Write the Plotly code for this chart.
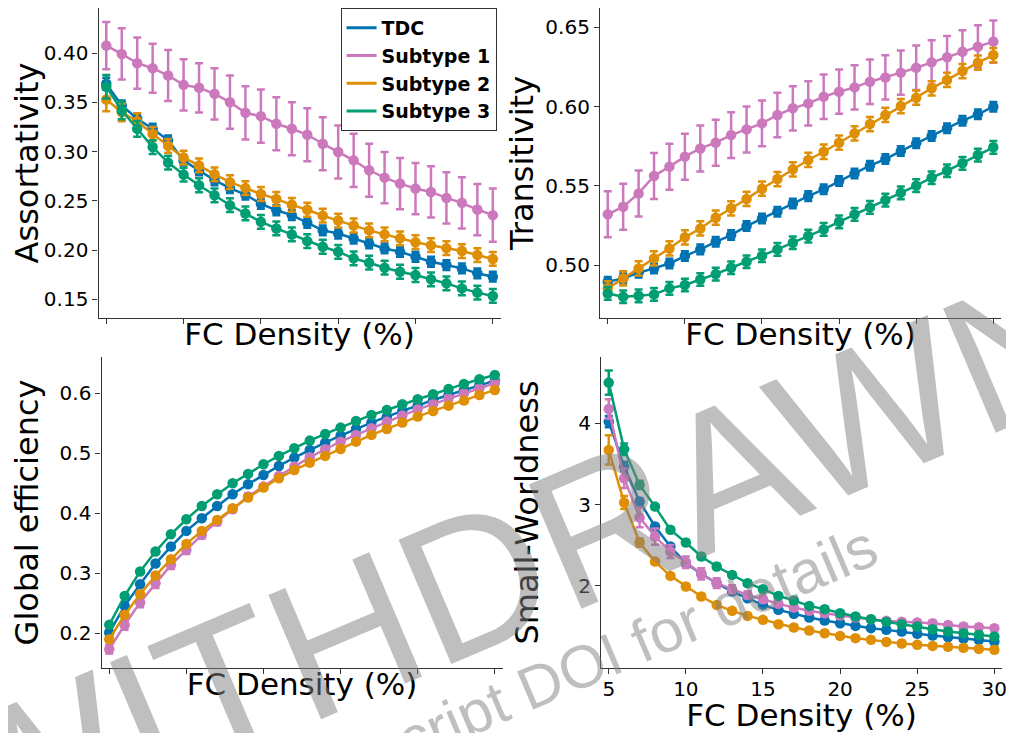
import plotly.graph_objects as go

density = list(range(5, 31))
groups = ["TDC", "Subtype 1", "Subtype 2", "Subtype 3"]
colors = ["#0173B2", "#CC78BC", "#DE8F05", "#029E73"]

# Assortativity
assort_tdc = [0.369, 0.347, 0.3335, 0.3233, 0.3115, 0.291, 0.281, 0.271, 0.263, 0.2564, 0.247, 0.2405, 0.2355, 0.2277, 0.220, 0.2169, 0.2118, 0.2068, 0.2017, 0.1983, 0.1932, 0.1882, 0.1848, 0.1814, 0.1764, 0.1730]
assort_s1 = [0.4078, 0.3993, 0.3899, 0.3848, 0.3774, 0.3679, 0.3649, 0.3588, 0.3503, 0.3395, 0.3361, 0.3284, 0.3233, 0.3172, 0.3081, 0.2997, 0.2912, 0.2811, 0.2736, 0.2676, 0.2625, 0.2591, 0.2530, 0.2480, 0.2412, 0.2355]
assort_s2 = [0.353, 0.340, 0.331, 0.318, 0.306, 0.294, 0.286, 0.277, 0.269, 0.263, 0.257, 0.252, 0.246, 0.241, 0.235, 0.230, 0.225, 0.220, 0.216, 0.212, 0.208, 0.205, 0.202, 0.199, 0.195, 0.191]
assort_s3 = [0.366, 0.3419, 0.3233, 0.3047, 0.2889, 0.2767, 0.2659, 0.2557, 0.2456, 0.2372, 0.2287, 0.222, 0.2159, 0.2091, 0.2034, 0.1983, 0.1916, 0.1872, 0.1821, 0.178, 0.1747, 0.1703, 0.1662, 0.1611, 0.1568, 0.1534]
assort_tdc_err = [0.006] + [0.005] * 25
assort_s1_err = [0.024, 0.026, 0.026, 0.025, 0.026, 0.026, 0.025, 0.026, 0.027, 0.027, 0.027, 0.027, 0.027, 0.027, 0.027, 0.027, 0.027, 0.027, 0.026, 0.026, 0.026, 0.026, 0.026, 0.026, 0.026, 0.027]
assort_s2_err = [0.012, 0.009, 0.008] + [0.007] * 23
assort_s3_err = [0.012, 0.009, 0.008] + [0.007] * 23

# Transitivity
trans_tdc = [0.4895, 0.4916, 0.4951, 0.4979, 0.501, 0.5057, 0.5099, 0.5147, 0.5189, 0.5246, 0.5294, 0.5337, 0.5389, 0.5435, 0.5478, 0.553, 0.5578, 0.5627, 0.5669, 0.5719, 0.5768, 0.5814, 0.5863, 0.5911, 0.5951, 0.5999]
trans_s1 = [0.532, 0.5368, 0.5452, 0.5562, 0.5621, 0.5684, 0.5736, 0.5772, 0.582, 0.5856, 0.5894, 0.5947, 0.5989, 0.602, 0.6062, 0.6094, 0.6121, 0.6157, 0.6184, 0.6214, 0.6245, 0.6279, 0.6311, 0.6346, 0.6378, 0.641]
trans_s2 = [0.4853, 0.4916, 0.4979, 0.5042, 0.5105, 0.5175, 0.5231, 0.5299, 0.5358, 0.5417, 0.5482, 0.5543, 0.5604, 0.5663, 0.5715, 0.5772, 0.5831, 0.589, 0.5947, 0.6003, 0.6056, 0.6115, 0.6168, 0.6224, 0.6277, 0.6325]
trans_s3 = [0.4821, 0.48, 0.4806, 0.4815, 0.4853, 0.4874, 0.4909, 0.4943, 0.4983, 0.5021, 0.5059, 0.5099, 0.5141, 0.5183, 0.5225, 0.5273, 0.532, 0.5364, 0.541, 0.5456, 0.5501, 0.5551, 0.5595, 0.5642, 0.5694, 0.5743]
trans_tdc_err = [0.003] * 26
trans_s1_err = [0.0145, 0.0145, 0.0145, 0.0145, 0.0145, 0.0145, 0.0145, 0.0145, 0.0145, 0.0145, 0.0145, 0.014, 0.014, 0.014, 0.014, 0.014, 0.014, 0.014, 0.014, 0.014, 0.014, 0.014, 0.0135, 0.0135, 0.0135, 0.0133]
trans_s2_err = [0.0045] * 26
trans_s3_err = [0.004] * 26

# Global efficiency
geff_tdc = [0.2011, 0.2456, 0.2817, 0.3161, 0.3444, 0.3706, 0.3917, 0.4122, 0.4317, 0.4483, 0.4639, 0.4789, 0.4928, 0.5056, 0.5178, 0.5294, 0.5406, 0.5511, 0.5611, 0.5706, 0.5794, 0.5889, 0.5972, 0.6056, 0.6139, 0.6211]
geff_s1 = [0.1733, 0.2139, 0.2511, 0.2833, 0.3139, 0.3389, 0.3639, 0.3861, 0.4067, 0.4278, 0.4444, 0.4622, 0.4778, 0.4933, 0.5067, 0.5194, 0.5306, 0.5417, 0.5528, 0.5628, 0.5733, 0.5822, 0.5917, 0.6, 0.6083, 0.6167]
geff_s2 = [0.19, 0.2306, 0.265, 0.2961, 0.3233, 0.3489, 0.3706, 0.3889, 0.4083, 0.4261, 0.4428, 0.4583, 0.4722, 0.4844, 0.4956, 0.5072, 0.5194, 0.5306, 0.5406, 0.5511, 0.5611, 0.5706, 0.5794, 0.5878, 0.5972, 0.6056]
geff_s3 = [0.2139, 0.2622, 0.3028, 0.3361, 0.365, 0.39, 0.4122, 0.4317, 0.45, 0.4656, 0.4817, 0.4956, 0.5083, 0.5211, 0.5322, 0.5428, 0.5539, 0.5639, 0.5722, 0.5817, 0.59, 0.5983, 0.6072, 0.6156, 0.6233, 0.6306]
geff_tdc_err = [0.003] * 26
geff_s1_err = [0.007, 0.008, 0.008, 0.008, 0.007, 0.007, 0.006, 0.006, 0.005, 0.005] + [0.004] * 16
geff_s2_err = [0.004] * 26
geff_s3_err = [0.003] * 26

# Small-worldness
sw_tdc = [4.02, 3.467, 3.037, 2.73, 2.484, 2.279, 2.148, 2.033, 1.93, 1.848, 1.766, 1.705, 1.656, 1.611, 1.574, 1.541, 1.508, 1.48, 1.459, 1.439, 1.41, 1.389, 1.369, 1.352, 1.336, 1.316]
sw_s1 = [4.176, 3.324, 2.84, 2.607, 2.422, 2.291, 2.148, 2.033, 1.959, 1.889, 1.836, 1.779, 1.734, 1.693, 1.664, 1.635, 1.611, 1.59, 1.57, 1.56, 1.549, 1.541, 1.52, 1.5, 1.492, 1.48]
sw_s2 = [3.672, 3.025, 2.533, 2.299, 2.123, 1.992, 1.869, 1.766, 1.693, 1.631, 1.582, 1.529, 1.488, 1.451, 1.418, 1.385, 1.357, 1.336, 1.311, 1.291, 1.275, 1.262, 1.25, 1.238, 1.225, 1.213]
sw_s3 = [4.5, 3.68, 3.242, 2.975, 2.689, 2.533, 2.361, 2.238, 2.135, 2.033, 1.959, 1.877, 1.82, 1.754, 1.713, 1.664, 1.623, 1.59, 1.557, 1.529, 1.5, 1.467, 1.439, 1.418, 1.398, 1.377]
sw_tdc_err = [0.07, 0.06, 0.04] + [0.03] * 23
sw_s1_err = [0.12, 0.12, 0.12, 0.1, 0.08, 0.07, 0.07, 0.06, 0.05, 0.045, 0.04] + [0.03] * 15
sw_s2_err = [0.18, 0.08, 0.05] + [0.03] * 23
sw_s3_err = [0.15, 0.07, 0.05] + [0.03] * 23

panels = [
    ("Assortativity", [assort_tdc, assort_s1, assort_s2, assort_s3],
     [assort_tdc_err, assort_s1_err, assort_s2_err, assort_s3_err],
     [0.131, 0.446], [0.15, 0.20, 0.25, 0.30, 0.35, 0.40], ".2f"),
    ("Transitivity", [trans_tdc, trans_s1, trans_s2, trans_s3],
     [trans_tdc_err, trans_s1_err, trans_s2_err, trans_s3_err],
     [0.4666, 0.6622], [0.50, 0.55, 0.60, 0.65], ".2f"),
    ("Global efficiency", [geff_tdc, geff_s1, geff_s2, geff_s3],
     [geff_tdc_err, geff_s1_err, geff_s2_err, geff_s3_err],
     [0.142, 0.6605], [0.2, 0.3, 0.4, 0.5, 0.6], ".1f"),
    ("Small-Worldness", [sw_tdc, sw_s1, sw_s2, sw_s3],
     [sw_tdc_err, sw_s1_err, sw_s2_err, sw_s3_err],
     [0.99, 4.815], [2, 3, 4], "d"),
]

# page has an 8px body margin; figure is sized so that it fills the 1014x733 window
OFF = 8
W, H = 1014 - OFF, 733 - OFF


def px(x):
    return min(1.0, max(0.0, (x - OFF) / W))


def py(y):
    return min(1.0, max(0.0, 1 - (y - OFF) / H))


# window-pixel boxes: (left, right, top, bottom)
boxes = [(99, 503, 8, 318), (603, 1006, 8, 318), (102, 505, 357, 668), (604, 1007, 357, 668)]
ystandoff = [13, 2, 20, 29]

fig = go.Figure()
layout = {}
tick_font = dict(family="DejaVu Sans", size=20, color="black")
xtitle_font = dict(family="DejaVu Sans", size=31, color="black")
ytitle_font = dict(family="DejaVu Sans", size=32, color="black")

for i, (ylabel, series, errs, yrange, yticks, fmt) in enumerate(panels):
    sfx = "" if i == 0 else str(i + 1)
    xa, ya = "x" + sfx, "y" + sfx
    for g, col, vals, err in zip(groups, colors, series, errs):
        fig.add_trace(go.Scatter(
            x=density, y=vals, xaxis=xa, yaxis=ya, mode="lines+markers",
            line=dict(color=col, width=2.5), marker=dict(color=col, size=10.5),
            error_y=dict(type="data", array=err, visible=True, color=col, thickness=2.5, width=4),
            showlegend=False, name=g, legendgroup=g))
    l, r, t, b = boxes[i]
    layout["xaxis" + sfx] = dict(
        domain=[px(l), px(r)], anchor=ya, range=[4.5, 30.5],
        tickvals=[5, 10, 15, 20, 25, 30], showticklabels=(i == 3),
        ticks="outside", ticklen=5, tickwidth=1.3, tickcolor="#333",
        showline=True, linecolor="#333", linewidth=1.3, showgrid=False, zeroline=False,
        tickfont=tick_font, ticklabelstandoff=-2,
        title=dict(text="FC Density (%)", font=xtitle_font, standoff=0 if i != 3 else 1))
    layout["yaxis" + sfx] = dict(
        domain=[py(b), py(t)], anchor=xa, range=yrange,
        tickvals=yticks, tickformat=fmt,
        ticks="outside", ticklen=5, tickwidth=1.3, tickcolor="#333",
        showline=True, linecolor="#333", linewidth=1.3, showgrid=False, zeroline=False,
        tickfont=tick_font,
        title=dict(text=ylabel, font=ytitle_font, standoff=ystandoff[i]))

# legend-only entries (line samples)
for g, col in zip(groups, colors):
    fig.add_trace(go.Scatter(x=[None], y=[None], mode="lines", name=g,
                             line=dict(color=col, width=3), showlegend=True))

fig.update_layout(
    width=W, height=H, margin=dict(l=0, r=0, t=0, b=0),
    paper_bgcolor="white", plot_bgcolor="white",
    font=dict(family="DejaVu Sans", color="black"),
    legend=dict(x=px(499), y=py(4), xanchor="right", yanchor="top",
                bgcolor="rgba(255,255,255,0.85)", bordercolor="#333", borderwidth=1,
                font=dict(family="DejaVu Sans", size=19, color="black", weight="bold"),
                itemwidth=30, tracegroupgap=0),
    **layout)

wm_color = "rgba(128,128,128,0.5)"
fig.add_annotation(text="WITHDRAWN", x=px(520), y=py(562), xref="paper", yref="paper",
                   showarrow=False, textangle=-23, xanchor="center", yanchor="middle",
                   font=dict(family="Liberation Sans", size=196, color=wm_color))
fig.add_annotation(text="See manuscript DOI for details", x=px(500), y=py(702),
                   xref="paper", yref="paper", showarrow=False, textangle=-23,
                   xanchor="center", yanchor="middle",
                   font=dict(family="Liberation Sans", size=60, color=wm_color))

fig.write_html("out.html")
